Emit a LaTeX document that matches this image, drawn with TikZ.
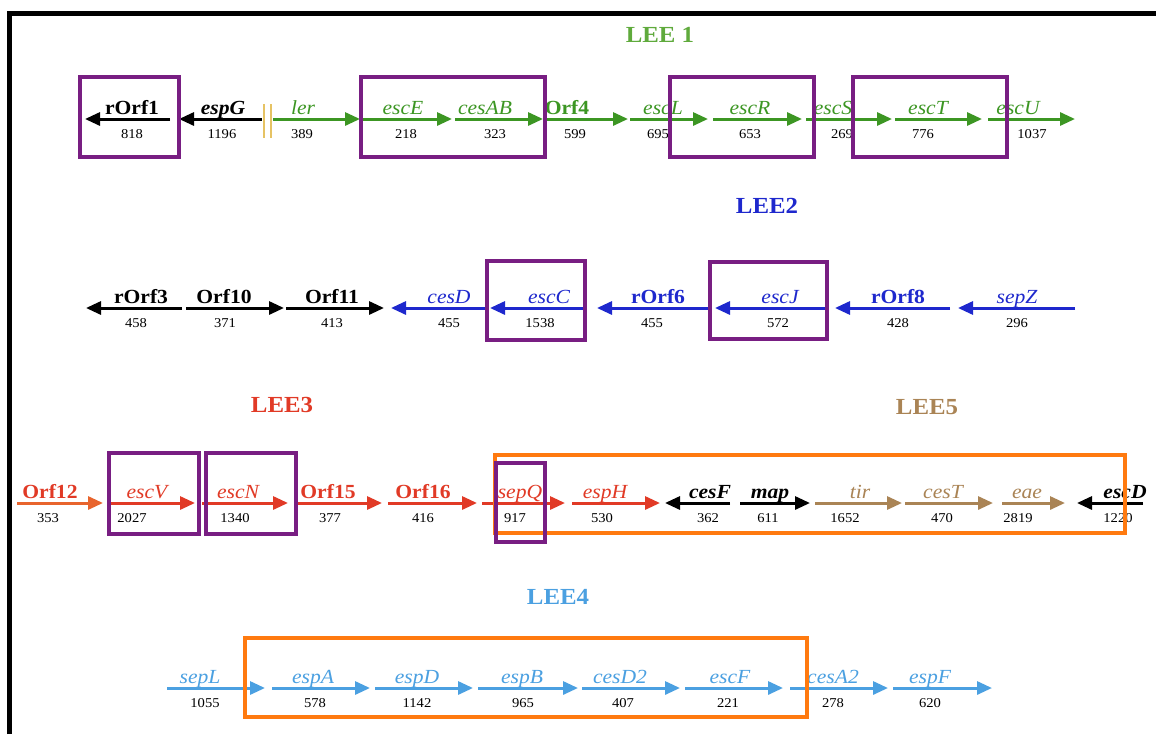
\documentclass[tikz,border=0pt]{standalone}
\usepackage{fontspec}
\setmainfont{Liberation Serif}[FakeStretch=1.08]
\usetikzlibrary{arrows.meta}
\definecolor{ggreen}{RGB}{60,150,35}
\definecolor{tgreen}{RGB}{95,170,60}
\definecolor{gblue}{RGB}{30,40,205}
\definecolor{gred}{RGB}{225,58,38}
\definecolor{gorf}{RGB}{232,100,45}
\definecolor{gbrown}{RGB}{170,132,85}
\definecolor{glblue}{RGB}{75,160,225}
\definecolor{gpurple}{RGB}{120,30,130}
\definecolor{gorange}{RGB}{255,122,15}
\definecolor{gyellow}{RGB}{230,195,100}
\newcommand{\genit}[2]{\textcolor{#1}{\itshape #2}}
\newcommand{\genbf}[2]{\textcolor{#1}{\bfseries #2}}
\newcommand{\genbi}[2]{\textcolor{#1}{\bfseries\itshape #2}}
% #1 name, #2 arrow colour, #3 tail x, #4 tip x, #5 row y, #6 label x, #7 label, #8 number x, #9 number
\newcommand{\gene}[9]{%
  \coordinate (#1t) at (#3,#5);
  \coordinate (#1h) at (#4,#5);
  \draw[genearrow,draw=#2,fill=#2] (#1t) -- (#1h);
  \node[glabel] (#1l) at (#6,#5-5) {#7};
  \node[gnum] (#1n) at (#8,#5+19) {#9};
}
\tikzset{
  genearrow/.style={line width=3pt,-{Triangle[length=15pt,width=13pt]}},
  glabel/.style={anchor=base,inner sep=0pt,font=\fontsize{20}{20}\selectfont},
  gnum/.style={anchor=base,inner sep=0pt,text=black,font=\fontsize{13.5}{13.5}\selectfont},
  lee/.style={inner sep=0pt,font=\fontsize{23}{23}\selectfont\bfseries},
  pbox/.style={draw=gpurple,line width=4pt},
  obox/.style={draw=gorange,line width=4pt},
}
\begin{document}
\begin{tikzpicture}[x=1pt,y=-1pt]
\useasboundingbox (0,0) rectangle (1156,734);
\fill[white] (0,0) rectangle (1156,734);
\draw[line width=5pt] (9.5,734) -- (9.5,13.5) -- (1156,13.5);

% titles
\node[lee,text=tgreen] (t1) at (660,35) {LEE 1};
\node[lee,text=gblue] (t2) at (767,206) {LEE2};
\node[lee,text=gred] (t3) at (282,405) {LEE3};
\node[lee,text=gbrown] (t5) at (927,407) {LEE5};
\node[lee,text=glblue] (t4) at (558,597) {LEE4};

% row 1
\gene{rorfa}{black}{170}{85}{119}{132}{\genbf{black}{rOrf1}}{132}{818}
\gene{espg}{black}{262}{179}{119}{223}{\genbi{black}{espG}}{222}{1196}
\gene{ler}{ggreen}{273}{360}{119}{303}{\genit{ggreen}{ler}}{302}{389}
\gene{esce}{ggreen}{362}{452}{119}{403}{\genit{ggreen}{escE}}{406}{218}
\gene{cesab}{ggreen}{455}{543}{119}{485}{\genit{ggreen}{cesAB}}{495}{323}
\gene{orff}{ggreen}{545}{628}{119}{567}{\genbf{ggreen}{Orf4}}{575}{599}
\gene{escl}{ggreen}{630}{708}{119}{663}{\genit{ggreen}{escL}}{658}{695}
\gene{escr}{ggreen}{713}{802}{119}{750}{\genit{ggreen}{escR}}{750}{653}
\gene{escs}{ggreen}{806}{892}{119}{833}{\genit{ggreen}{escS}}{842}{269}
\gene{esct}{ggreen}{895}{982}{119}{928}{\genit{ggreen}{escT}}{923}{776}
\gene{escu}{ggreen}{988}{1075}{119}{1018}{\genit{ggreen}{escU}}{1032}{1037}
\draw[gyellow,line width=1.3pt] (264,104) -- (264,138) (271,104) -- (271,138);
\draw[pbox] (80,77) rectangle (179,157);
\draw[pbox] (361,77) rectangle (545,157);
\draw[pbox] (670,77) rectangle (814,157);
\draw[pbox] (853,77) rectangle (1007,157);

% row 2
\gene{rorfc}{black}{182}{86}{308}{141}{\genbf{black}{rOrf3}}{136}{458}
\gene{orfj}{black}{186}{284}{308}{224}{\genbf{black}{Orf10}}{225}{371}
\gene{orfk}{black}{286}{384}{308}{332}{\genbf{black}{Orf11}}{332}{413}
\gene{cesd}{gblue}{485}{391}{308}{449}{\genit{gblue}{cesD}}{449}{455}
\gene{escc}{gblue}{585}{490}{308}{549}{\genit{gblue}{escC}}{540}{1538}
\gene{rorff}{gblue}{710}{597}{308}{658}{\genbf{gblue}{rOrf6}}{652}{455}
\gene{escj}{gblue}{828}{715}{308}{780}{\genit{gblue}{escJ}}{778}{572}
\gene{rorfh}{gblue}{950}{835}{308}{898}{\genbf{gblue}{rOrf8}}{898}{428}
\gene{sepz}{gblue}{1075}{958}{308}{1017}{\genit{gblue}{sepZ}}{1017}{296}
\draw[pbox] (487,261) rectangle (585,340);
\draw[pbox] (710,262) rectangle (827,339);

% row 3
\gene{orfl}{gorf}{17}{103}{503}{50}{\genbf{gred}{Orf12}}{48}{353}
\gene{escv}{gred}{110}{195}{503}{147}{\genit{gred}{escV}}{132}{2027}
\gene{escn}{gred}{202}{288}{503}{238}{\genit{gred}{escN}}{235}{1340}
\gene{orfo}{gred}{297}{382}{503}{328}{\genbf{gred}{Orf15}}{330}{377}
\gene{orfp}{gred}{388}{477}{503}{423}{\genbf{gred}{Orf16}}{423}{416}
\gene{sepq}{gred}{482}{565}{503}{520}{\genit{gred}{sepQ}}{515}{917}
\gene{esph}{gred}{572}{660}{503}{605}{\genit{gred}{espH}}{602}{530}
\gene{cesf}{black}{730}{665}{503}{710}{\genbi{black}{cesF}}{708}{362}
\gene{map}{black}{740}{810}{503}{770}{\genbi{black}{map}}{768}{611}
\gene{tir}{gbrown}{815}{902}{503}{860}{\genit{gbrown}{tir}}{845}{1652}
\gene{cest}{gbrown}{905}{993}{503}{943}{\genit{gbrown}{cesT}}{942}{470}
\gene{eae}{gbrown}{1002}{1065}{503}{1027}{\genit{gbrown}{eae}}{1018}{2819}
\gene{escd}{black}{1143}{1077}{503}{1125}{\genbi{black}{escD}}{1118}{1220}
\draw[pbox] (109,453) rectangle (199,534);
\draw[pbox] (206,453) rectangle (296,534);
\draw[obox] (495,455) rectangle (1125,533);
\draw[pbox] (496,463) rectangle (545,542);

% row 4
\gene{sepl}{glblue}{167}{265}{688}{200}{\genit{glblue}{sepL}}{205}{1055}
\gene{espa}{glblue}{272}{370}{688}{313}{\genit{glblue}{espA}}{315}{578}
\gene{espd}{glblue}{375}{473}{688}{417}{\genit{glblue}{espD}}{417}{1142}
\gene{espb}{glblue}{478}{578}{688}{522}{\genit{glblue}{espB}}{523}{965}
\gene{cesdb}{glblue}{582}{680}{688}{620}{\genit{glblue}{cesD2}}{623}{407}
\gene{escf}{glblue}{685}{783}{688}{730}{\genit{glblue}{escF}}{728}{221}
\gene{cesab2}{glblue}{790}{888}{688}{833}{\genit{glblue}{cesA2}}{833}{278}
\gene{espf}{glblue}{893}{992}{688}{930}{\genit{glblue}{espF}}{930}{620}
\draw[obox] (245,638) rectangle (807,717);
\end{tikzpicture}
\end{document}
